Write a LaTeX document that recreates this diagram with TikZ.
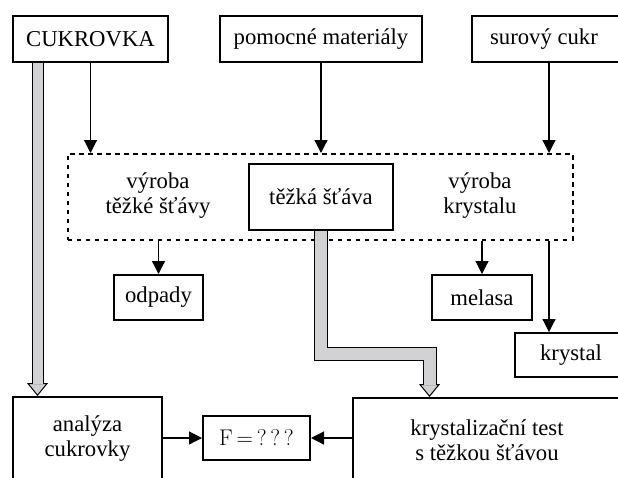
\documentclass[tikz,border=0pt]{standalone}
\usepackage{fontspec}
\setmainfont{Liberation Serif}
\usetikzlibrary{arrows.meta}
\definecolor{gl}{RGB}{210,210,212}
\begin{document}
\begin{tikzpicture}[x=1pt,y=-1pt,
  font=\fontsize{22.7}{25}\selectfont,
  box/.style={draw, line width=2pt, rectangle, inner sep=0pt, anchor=north west},
  dbox/.style={draw, line width=1.7pt, dash pattern=on 4.5pt off 4.5pt, rectangle, inner sep=0pt, anchor=north west},
  arr/.style={line width=1.2pt, -{Triangle[length=13pt,width=13pt]}},
  gtip/.style={line width=1pt, -{Triangle[length=13pt,width=21pt,fill=gl]}},
]
\useasboundingbox (0,0) rectangle (618,477);
\clip (0,0) rectangle (618,477);

% top boxes
\node[box, minimum width=155pt, minimum height=46pt] (cuk) at (12,15) {CUKROVKA};
\node[box, minimum width=202pt, minimum height=46pt] (pom) at (219,15) {pomocné materiály};
\node[box, minimum width=154pt, minimum height=46pt] (sur) at (471,15) {\hspace*{-10pt}surový cukr};

% process box
\node[dbox, minimum width=505pt, minimum height=86pt] (proc) at (67,153) {};
\node[box, minimum width=144pt, minimum height=66pt] (tez) at (248,163) {těžká šťáva};
\node[align=center] (vt) at (158,196) {výroba\\těžké šťávy};
\node[align=center] (vk) at (480,196) {výroba\\krystalu};

% outputs
\node[box, minimum width=89pt, minimum height=45pt] (odp) at (113,274) {odpady};
\node[box, minimum width=100pt, minimum height=45pt] (mel) at (431,274) {melasa};
\node[box, minimum width=112pt, minimum height=44pt] (kry) at (514,332) {krystal};

% bottom
\node[box, minimum width=149pt, minimum height=84pt, align=center] (ana) at (12,396) {analýza\\cukrovky};
\node[box, minimum width=107pt, minimum height=44pt] (fq) at (202,415) {\fontfamily{lmr}\selectfont F\,=\,?\,?\,?};
\node[box, minimum width=268pt, minimum height=84pt, align=center] (kts) at (352,397) {krystalizační test\\s těžkou šťávou};

% thin arrows
\draw[arr] (cuk.south) -- (cuk.south |- proc.north);
\draw[arr] (pom.south) -- (pom.south |- proc.north);
\draw[arr] (sur.south) -- (sur.south |- proc.north);
\draw[arr] (odp.north |- proc.south) -- (odp.north);
\draw[arr] (mel.north |- proc.south) -- (mel.north);
\draw[arr] (sur.south |- proc.south) -- (sur.south |- kry.north);
\draw[arr] (fq.west -| ana.east) -- (fq.west);
\draw[arr] (fq.east -| kts.west) -- (fq.east);

% gray block arrows
\coordinate (g1) at (37.5,0);
\coordinate (g2) at (429.5,353.5);
\draw[gtip] (cuk.south -| g1) -- (ana.north -| g1);
\draw[line width=12pt, shorten >=13pt] (cuk.south -| g1) -- (ana.north -| g1);
\draw[line width=10pt, gl, shorten >=12pt] (cuk.south -| g1) -- (ana.north -| g1);

\draw[gtip] (tez.south) |- (g2) -- (g2 |- kts.north);
\draw[line width=14pt, shorten >=13pt] (tez.south) |- (g2) -- (g2 |- kts.north);
\draw[line width=12pt, gl, shorten >=12pt] (tez.south) |- (g2) -- (g2 |- kts.north);
\end{tikzpicture}
\end{document}
